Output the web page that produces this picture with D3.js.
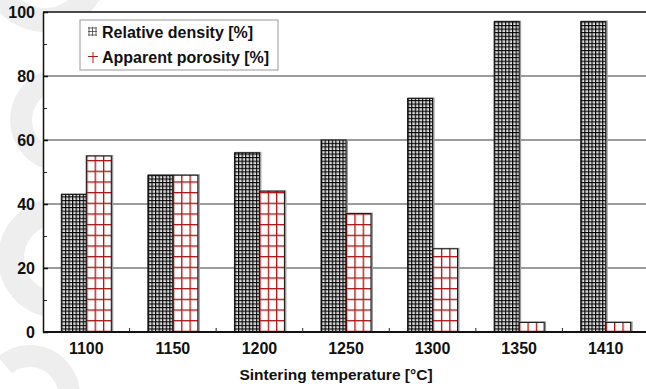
<!DOCTYPE html>
<html>
<head>
<meta charset="utf-8">
<script src="https://cdn.jsdelivr.net/npm/d3@7"></script>
<style>
  body { margin: 0; background: #fff; }
  svg text { font-family: "Liberation Sans", Arial, sans-serif; font-weight: bold; fill: #111; }
</style>
</head>
<body>
<div class="container"></div>
<script>
const temperatures = ["1100", "1150", "1200", "1250", "1300", "1350", "1410"];
const relativeDensity = [43, 49, 56, 60, 73, 97, 97];
const apparentPorosity = [55, 49, 44, 37, 26, 3, 3];
const seriesNames = ["Relative density [%]", "Apparent porosity [%]"];
const yTicks = [0, 20, 40, 60, 80, 100];
const yMinorTicks = [10, 30, 50, 70, 90];

const WIDTH = 646, HEIGHT = 389;
const MARGIN = { top: 12, right: -3, bottom: 57, left: 43 };

const svg = d3.select(".container").append("svg")
  .attr("width", WIDTH)
  .attr("height", HEIGHT);

// faint watermark on the left margin
const wm = svg.append("g").attr("fill", "#eeeeee");
const deg = Math.PI / 180;
wm.append("path")
  .attr("transform", "translate(45,-30)")
  .attr("d", d3.arc()({ innerRadius: 38, outerRadius: 62, startAngle: 95 * deg, endAngle: 265 * deg }));
wm.append("path")
  .attr("transform", "translate(62,120)")
  .attr("d", d3.arc()({ innerRadius: 30, outerRadius: 52, startAngle: 190 * deg, endAngle: 345 * deg }));
wm.append("path")
  .attr("transform", "translate(58,258)")
  .attr("d", d3.arc()({ innerRadius: 34, outerRadius: 60, startAngle: 150 * deg, endAngle: 380 * deg }));
wm.append("path")
  .attr("transform", "translate(30,395)")
  .attr("d", d3.arc()({ innerRadius: 28, outerRadius: 50, startAngle: -40 * deg, endAngle: 110 * deg }));

const defs = svg.append("defs");

// dense black grid fill
const dense = defs.append("pattern")
  .attr("id", "densePat")
  .attr("patternUnits", "userSpaceOnUse")
  .attr("width", 3.57)
  .attr("height", 3.57);
dense.append("rect").attr("width", 3.57).attr("height", 3.57).attr("fill", "#fff");
dense.append("path")
  .attr("d", "M1.6,0V3.57M0,1.6H3.57")
  .attr("stroke", "#8a8a8a")
  .attr("stroke-width", 0.8);
dense.append("path")
  .attr("d", "M0.5,0V3.57M0,0.5H3.57")
  .attr("stroke", "#000")
  .attr("stroke-width", 1);

// red open grid fill
const poro = defs.append("pattern")
  .attr("id", "poroPat")
  .attr("patternUnits", "userSpaceOnUse")
  .attr("width", 8.33)
  .attr("height", 10.67);
poro.append("rect").attr("width", 8.33).attr("height", 10.67).attr("fill", "#fff");
poro.append("path")
  .attr("d", "M1.5,0V10.67M0,1.5H8.33")
  .attr("stroke", "#e3aaaa")
  .attr("stroke-width", 1);
poro.append("path")
  .attr("d", "M0.5,0V10.67M0,0.5H8.33")
  .attr("stroke", "#a81010")
  .attr("stroke-width", 1);

const x = d3.scaleBand()
  .domain(temperatures)
  .range([MARGIN.left, WIDTH - MARGIN.right])
  .paddingInner(0.423)
  .paddingOuter(0.2115);

const sub = d3.scaleBand()
  .domain(["density", "porosity"])
  .range([0, x.bandwidth()]);

const y = d3.scaleLinear()
  .domain([0, 100])
  .range([HEIGHT - MARGIN.bottom, MARGIN.top]);

// plot background hides watermark
svg.append("rect")
  .attr("x", MARGIN.left)
  .attr("y", y(100))
  .attr("width", WIDTH - MARGIN.left)
  .attr("height", y(0) - y(100))
  .attr("fill", "#fff");

// grid lines
svg.append("g")
  .selectAll("line")
  .data(yTicks.filter(d => d > 0 && d < 100))
  .join("line")
  .attr("x1", MARGIN.left)
  .attr("x2", WIDTH)
  .attr("y1", d => y(d))
  .attr("y2", d => y(d))
  .attr("stroke", "#7a7a7a")
  .attr("stroke-width", 1.5);

const rows = temperatures.map((t, i) => ({ t, density: relativeDensity[i], porosity: apparentPorosity[i] }));

const groups = svg.append("g")
  .selectAll("g")
  .data(rows)
  .join("g")
  .attr("transform", d => `translate(${x(d.t)},0)`);

const drawBars = (key, fill) => {
  groups.append("rect")
    .attr("x", sub(key) + 1)
    .attr("y", d => y(d[key]))
    .attr("width", sub.bandwidth())
    .attr("height", d => y(0) - y(d[key]))
    .attr("fill", "none")
    .attr("stroke", "#9a9a9a")
    .attr("stroke-width", 2);
  groups.append("rect")
    .attr("x", sub(key))
    .attr("y", d => y(d[key]))
    .attr("width", sub.bandwidth())
    .attr("height", d => y(0) - y(d[key]))
    .attr("fill", fill)
    .attr("stroke", "#111")
    .attr("stroke-width", 1);
};
drawBars("density", "url(#densePat)");
drawBars("porosity", "url(#poroPat)");

// top frame line
svg.append("line")
  .attr("x1", MARGIN.left)
  .attr("x2", WIDTH)
  .attr("y1", y(100))
  .attr("y2", y(100))
  .attr("stroke", "#111")
  .attr("stroke-width", 1.5);

// y axis
const yAxis = svg.append("g")
  .attr("transform", `translate(${MARGIN.left},0)`)
  .call(d3.axisLeft(y).tickValues(yTicks).tickSize(-5).tickSizeOuter(0).tickPadding(8));
yAxis.select(".domain").attr("stroke", "#111").attr("stroke-width", 1.5);
yAxis.selectAll(".tick line").attr("stroke", "#111").attr("stroke-width", 1.5);
yAxis.selectAll("text").attr("font-size", 16).attr("font-family", null);

svg.append("g")
  .attr("transform", `translate(${MARGIN.left},0)`)
  .call(d3.axisLeft(y).tickValues(yMinorTicks).tickSize(-4).tickFormat(""))
  .call(g => g.select(".domain").remove())
  .selectAll(".tick line").attr("stroke", "#222");

// x axis
const xAxis = svg.append("g")
  .attr("transform", `translate(0,${y(0)})`)
  .call(d3.axisBottom(x).tickSize(0).tickPadding(8));
xAxis.select(".domain")
  .attr("d", `M${MARGIN.left},0H${WIDTH}`)
  .attr("stroke", "#111")
  .attr("stroke-width", 2);
xAxis.selectAll("text").attr("font-size", 16).attr("font-family", null).attr("dy", "0.9em");

// small ticks between categories
svg.append("g")
  .selectAll("line")
  .data(temperatures.slice(0, -1))
  .join("line")
  .attr("x1", d => x(d) + x.bandwidth() + x.step() * x.paddingInner() / 2)
  .attr("x2", d => x(d) + x.bandwidth() + x.step() * x.paddingInner() / 2)
  .attr("y1", y(0))
  .attr("y2", y(0) - 4)
  .attr("stroke", "#222");

svg.append("text")
  .attr("x", 336)
  .attr("y", 380)
  .attr("text-anchor", "middle")
  .attr("font-size", 15.5)
  .text("Sintering temperature [°C]");

// legend
const legend = svg.append("g").attr("transform", "translate(80,20)");
legend.append("rect")
  .attr("width", 198)
  .attr("height", 50)
  .attr("fill", "#fff")
  .attr("stroke", "#999");

const markD = "M1,0V9M4.5,0V9M8,0V9M0,1H9M0,4.5H9M0,8H9";
legend.append("path")
  .attr("transform", "translate(8,7)")
  .attr("d", markD)
  .attr("fill", "none")
  .attr("stroke", "#444")
  .attr("stroke-width", 0.8);
legend.append("path")
  .attr("transform", "translate(8,32)")
  .attr("d", "M5,0V11M0,4.5H10")
  .attr("stroke", "#b01818")
  .attr("stroke-width", 1);

legend.selectAll("text.lab")
  .data(seriesNames)
  .join("text")
  .attr("class", "lab")
  .attr("x", 22)
  .attr("y", (d, i) => 18 + i * 25)
  .attr("font-size", 16)
  .text(d => d);
</script>
</body>
</html>
